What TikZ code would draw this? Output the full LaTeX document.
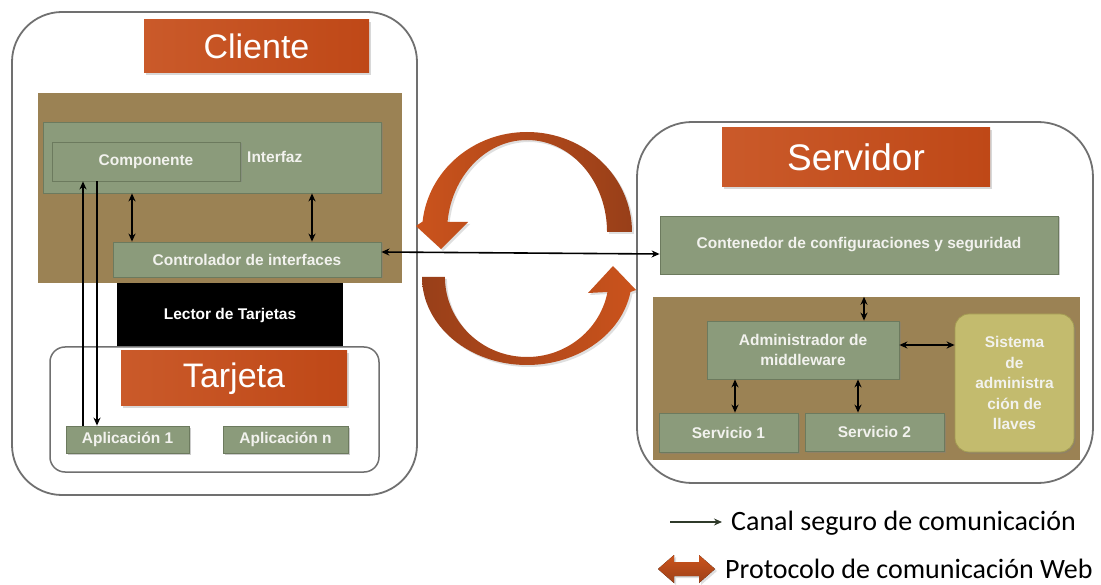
\documentclass[tikz,border=0pt]{standalone}
\usepackage{fontspec}
\setmainfont{Liberation Sans}
\newfontfamily\legendfont{Carlito}
\usetikzlibrary{arrows.meta,shadows}

\definecolor{panelgray}{HTML}{707070}
\definecolor{mudbrown}{HTML}{9B8254}
\definecolor{sage}{HTML}{8B9B7B}
\definecolor{sageedge}{HTML}{6C7A5E}
\definecolor{rustlight}{HTML}{CA5A2A}
\definecolor{rustdark}{HTML}{BF4817}
\definecolor{arcdark}{HTML}{983F19}
\definecolor{arclight}{HTML}{CB531C}
\definecolor{khaki}{HTML}{C3BB6E}
\definecolor{khakiedge}{HTML}{A39B52}
\definecolor{legendline}{HTML}{2F3A2A}
\definecolor{labelwhite}{HTML}{F2F2EE}

\tikzset{
  panel/.style={draw=panelgray, line width=1.8pt, fill=white, inner sep=0pt},
  backdrop/.style={fill=mudbrown, inner sep=0pt},
  titlebox/.style={left color=rustlight, right color=rustdark, inner sep=0pt,
    text=white, font=\fontsize{34}{40}\selectfont,
    drop shadow={shadow xshift=2pt, shadow yshift=-2pt, opacity=0.3}},
  block/.style={fill=sage, draw=sageedge, line width=0.8pt, inner sep=0pt,
    text=labelwhite, font=\bfseries\fontsize{15.5}{20.5}\selectfont, align=center,
    drop shadow={shadow xshift=1.5pt, shadow yshift=-1.5pt, opacity=0.4}},
  link/.style={line width=1.6pt, {Stealth[length=8pt,width=7pt]}-{Stealth[length=8pt,width=7pt]}},
  oneway/.style={line width=1.6pt, -{Stealth[length=8pt,width=7pt]}},
  turnarrow/.style={drop shadow={shadow xshift=2pt, shadow yshift=-2pt, opacity=0.25}},
}

\begin{document}
\begin{tikzpicture}[x=1pt, y=-1pt]
\useasboundingbox (0,0) rectangle (1101,585);

% ---------- client side ----------
\node[panel, rounded corners=50pt, minimum width=405pt, minimum height=483pt] (client) at (214.5,253.5) {};
\node[backdrop, minimum width=364pt, minimum height=190pt] (cliBg) at (220,188) {};
\node[titlebox, minimum width=225pt, minimum height=53pt] (cliTitle) at (256.5,46.5) {Cliente};
\node[block, minimum width=338pt, minimum height=71pt] (interfaz) at (212,157.5) {};
\node[block, minimum width=188pt, minimum height=39pt] (comp) at (146,161.5) {Componente};
\node[anchor=base west, inner sep=0pt, text=labelwhite, font=\bfseries\fontsize{15.5}{20.5}\selectfont] (interfazLbl) at (247,163) {Interfaz};
\node[block, minimum width=268pt, minimum height=35pt] (ctrl) at (247,259.5) {Controlador de interfaces};
\node[fill=black, text=white, inner sep=0pt, font=\bfseries\fontsize{15.5}{20.5}\selectfont,
      minimum width=226pt, minimum height=64pt] (lector) at (230,315) {Lector de Tarjetas};
\node[panel, rounded corners=15pt, line width=1.5pt, minimum width=329pt, minimum height=125pt] (card) at (214.5,409.5) {};
\node[titlebox, minimum width=226pt, minimum height=55pt] (cardTitle) at (234,378.5) {Tarjeta};
\node[block, minimum width=123pt, minimum height=27pt] (app1) at (127.5,439.5) {Aplicación 1};
\node[block, minimum width=125pt, minimum height=27pt] (appn) at (285.5,439.5) {Aplicación n};

% ---------- server side ----------
\node[panel, rounded corners=55pt, minimum width=456pt, minimum height=361pt] (server) at (865,302.5) {};
\node[titlebox, font=\fontsize{37}{44}\selectfont, minimum width=268pt, minimum height=59pt] (srvTitle) at (856,157.5) {Servidor};
\node[block, minimum width=398pt, minimum height=58pt] (cont) at (859,245) {Contenedor de configuraciones y seguridad};
\node[backdrop, minimum width=427pt, minimum height=163pt] (srvBg) at (866.5,378.5) {};
\node[block, minimum width=192pt, minimum height=58pt] (admin) at (803,350) {Administrador de\\middleware};
\node[block, fill=khaki, draw=khakiedge, rounded corners=14pt, minimum width=119pt, minimum height=138pt] (keys) at (1014.5,383) {Sistema\\de\\administra\\ción de\\llaves};
\node[block, minimum width=139pt, minimum height=39pt] (srv1) at (728.5,432.5) {Servicio 1};
\node[block, minimum width=139pt, minimum height=38pt] (srv2) at (874.5,432) {Servicio 2};

% ---------- web protocol turning arrows ----------
\path[turnarrow, left color=arclight, right color=arcdark]
  (632,232) arc[start angle=0, end angle=-174, x radius=105, y radius=100]
  -- (416,226) -- (441,249) -- (468,222) -- (447.5,222)
  arc[start angle=-173.76, end angle=0, x radius=80, y radius=92] -- cycle;
\path[turnarrow, left color=arcdark, right color=arclight]
  (422,277) arc[start angle=180, end angle=9.8, x radius=105, y radius=88]
  -- (636,290) -- (613,266) -- (588,293) -- (607.5,292)
  arc[start angle=10.81, end angle=180, x radius=82, y radius=80] -- cycle;

% ---------- secure channels ----------
\coordinate (xa) at (132,0);
\coordinate (xb) at (312,0);
\coordinate (xc) at (83,0);
\coordinate (xd) at (97,0);
\coordinate (xe) at (864,0);
\coordinate (xf) at (735,0);
\coordinate (xg) at (858,0);
\coordinate (ak) at ([yshift=5pt]admin.east);

\draw[link] (xa |- interfaz.south) -- (xa |- ctrl.north);
\draw[link] (xb |- interfaz.south) -- (xb |- ctrl.north);
\draw[oneway] (xc |- app1.north) -- (xc |- comp.south);
\draw[oneway] (xd |- comp.south) -- (xd |- app1.north);
\draw[link] ([yshift=7.5pt]ctrl.east) -- ([yshift=-9pt]cont.west);
\draw[link] (xe |- srvBg.north) -- (xe |- admin.north);
\draw[link] (ak) -- (ak -| keys.west);
\draw[link] (xf |- admin.south) -- (xf |- srv1.north);
\draw[link] (xg |- admin.south) -- (xg |- srv2.north);

% ---------- legend ----------
\node[anchor=base west, inner sep=0pt, font=\legendfont\fontsize{28}{33}\selectfont] (lgText1) at (731,530) {Canal seguro de comunicación};
\node[anchor=base west, inner sep=0pt, font=\legendfont\fontsize{28}{33}\selectfont] (lgText2) at (725,578) {Protocolo de comunicación Web};
\coordinate (lgA) at (670,522);
\coordinate (lgB) at (722,522);
\draw[oneway, draw=legendline, line width=1.8pt] (lgA) -- (lgB);
\fill[turnarrow, top color=arclight, bottom color=arcdark!90!arclight]
  (658,569) -- (674,555) -- (674,562) -- (699,562) -- (699,555) -- (715,569)
  -- (699,583) -- (699,576) -- (674,576) -- (674,583) -- cycle;
\end{tikzpicture}
\end{document}
